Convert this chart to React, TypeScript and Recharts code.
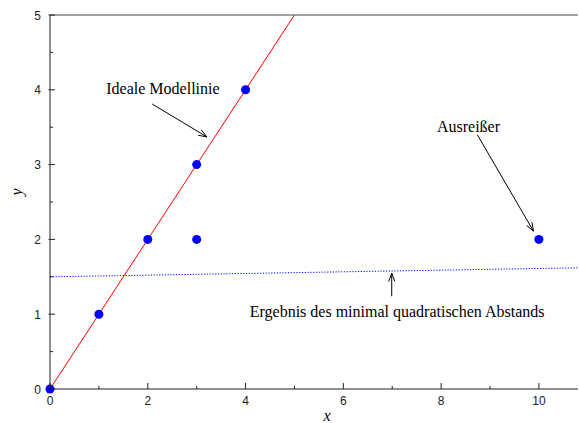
import React from 'react';
import {
  ScatterChart,
  Scatter,
  XAxis,
  YAxis,
  ReferenceLine,
  ReferenceDot,
  Label,
} from 'recharts';

// measured points
const pointX = [0, 1, 2, 3, 4, 3, 10];
const pointY = [0, 1, 2, 3, 4, 2, 2];

// ideal model line y = x
const modelX = [0, 5];
const modelY = [0, 5];

// least squares result (dotted)
const fitX = [0, 10.8];
const fitY = [1.5, 1.62];

const xTicks = [0, 1, 2, 3, 4, 5, 6, 7, 8, 9, 10];
const yTicks = [0, 0.5, 1, 1.5, 2, 2.5, 3, 3.5, 4, 4.5, 5];

// annotations: text, text position, arrow start, arrow tip
const noteText = ['Ideale Modellinie', 'Ausreißer', 'Ergebnis des minimal quadratischen Abstands'];
const noteX = [2.31, 8.56, 7.1];
const noteY = [4.01, 3.5, 1.03];
const arrowFromX = [2.09, 8.74, 6.99];
const arrowFromY = [3.81, 3.4, 1.24];
const arrowToX = [3.21, 9.89, 6.99];
const arrowToY = [3.37, 2.11, 1.55];

const points = pointX.map((x, i) => ({ x, y: pointY[i] }));
const modelLine = modelX.map((x, i) => ({ x, y: modelY[i] }));
const fitLine = fitX.map((x, i) => ({ x, y: fitY[i] }));

const AXIS = '#222';
const TICK_FONT = '"Liberation Sans", Arial, sans-serif';
const SERIF = '"Liberation Serif", "Times New Roman", serif';

const BottomTick = (p: any) => {
  const { x, y, payload } = p;
  const major = payload.value % 2 === 0;
  return (
    <g>
      <line x1={x} x2={x} y1={y} y2={y - (major ? 6 : 3)} stroke={AXIS} />
      {major && (
        <text x={x} y={y + 16} textAnchor="middle" fontSize={12} fontFamily={TICK_FONT} fill="#222">
          {payload.value}
        </text>
      )}
    </g>
  );
};

const TopTick = (p: any) => {
  const { x, y } = p;
  return <line x1={x} x2={x} y1={y} y2={y + 5} stroke={AXIS} />;
};

const LeftTick = (p: any) => {
  const { x, y, payload } = p;
  const major = Number.isInteger(payload.value);
  return (
    <g>
      <line x1={major ? x - 1.5 : x} x2={x + (major ? 5 : 3)} y1={y} y2={y} stroke={AXIS} />
      {major && (
        <text x={x - 9} y={y + 4.5} textAnchor="end" fontSize={12} fontFamily={TICK_FONT} fill="#222">
          {payload.value}
        </text>
      )}
    </g>
  );
};

const Arrow = (p: any) => {
  const { x1, y1, x2, y2 } = p;
  const ang = Math.atan2(y2 - y1, x2 - x1);
  const len = 9;
  const spread = 0.35;
  const ax = x2 - len * Math.cos(ang - spread);
  const ay = y2 - len * Math.sin(ang - spread);
  const bx = x2 - len * Math.cos(ang + spread);
  const by = y2 - len * Math.sin(ang + spread);
  return (
    <g>
      <line x1={x1} y1={y1} x2={x2} y2={y2} stroke="#000" strokeWidth={1} />
      <path d={`M${ax},${ay} L${x2},${y2} L${bx},${by}`} fill="none" stroke="#000" strokeWidth={1} />
    </g>
  );
};

const NoteText = (text: string) => (p: any) => (
  <text x={p.cx} y={p.cy + 5} textAnchor="middle" fontSize={16} fontFamily={SERIF} fill="#000">
    {text}
  </text>
);

const Dot = (p: any) => <circle cx={p.cx} cy={p.cy} r={4.5} fill="#0000ff" />;
const NoShape = () => <g />;

export default function App() {
  return (
    <div style={{ position: 'absolute', left: 0, top: 0, background: '#fff' }}>
      <ScatterChart width={579} height={423} margin={{ top: 0, right: 1, bottom: 0, left: 0 }}>
        <XAxis
          xAxisId="top"
          orientation="top"
          type="number"
          domain={[0, 10.8]}
          ticks={xTicks}
          height={15}
          tickSize={0}
          tickMargin={0}
          tickLine={false}
          tick={<TopTick />}
          axisLine={{ stroke: '#444' }}
        />
        <XAxis
          dataKey="x"
          type="number"
          domain={[0, 10.8]}
          ticks={xTicks}
          height={34}
          tickSize={0}
          tickMargin={0}
          tickLine={false}
          tick={<BottomTick />}
          axisLine={{ stroke: AXIS }}
        >
          <Label
            content={(lp: any) => (
              <text
                x={lp.viewBox.x + lp.viewBox.width / 2 + 13}
                y={lp.viewBox.y + 32}
                textAnchor="middle"
                fontSize={16}
                fontStyle="italic"
                fontFamily={SERIF}
                fill="#000"
              >
                x
              </text>
            )}
          />
        </XAxis>
        <YAxis
          dataKey="y"
          type="number"
          domain={[0, 5]}
          ticks={yTicks}
          width={50}
          tickSize={0}
          tickMargin={0}
          tickLine={false}
          tick={<LeftTick />}
          axisLine={{ stroke: AXIS }}
        >
          <Label
            content={(lp: any) => {
              const cx = 16;
              const cy = lp.viewBox.y + lp.viewBox.height / 2 - 10;
              return (
                <text
                  x={cx}
                  y={cy}
                  transform={`rotate(-90 ${cx} ${cy})`}
                  textAnchor="middle"
                  dominantBaseline="central"
                  fontSize={16}
                  fontStyle="italic"
                  fontFamily={SERIF}
                  fill="#000"
                >
                  y
                </text>
              );
            }}
          />
        </YAxis>

        <Scatter
          data={fitLine}
          line={{ stroke: '#0000ff', strokeWidth: 1, strokeDasharray: '1.2 1.6' }}
          shape={<NoShape />}
          isAnimationActive={false}
        />
        <Scatter
          data={modelLine}
          line={{ stroke: '#ff0000', strokeWidth: 1 }}
          shape={<NoShape />}
          isAnimationActive={false}
        />
        <Scatter data={points} shape={<Dot />} isAnimationActive={false} />

        {noteText.map((t, i) => (
          <ReferenceLine
            key={'a' + i}
            segment={[
              { x: arrowFromX[i], y: arrowFromY[i] },
              { x: arrowToX[i], y: arrowToY[i] },
            ]}
            shape={Arrow}
            ifOverflow="visible"
          />
        ))}
        {noteText.map((t, i) => (
          <ReferenceDot key={'t' + i} x={noteX[i]} y={noteY[i]} r={0} shape={NoteText(t)} ifOverflow="visible" />
        ))}
      </ScatterChart>
    </div>
  );
}
